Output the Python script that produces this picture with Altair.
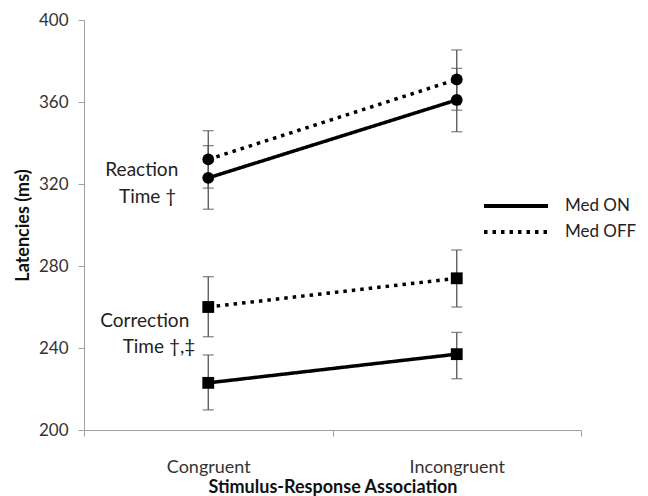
import altair as alt
import pandas as pd

conditions = ["Congruent", "Incongruent"]
measures = ["RT", "RT", "RT", "RT", "CT", "CT", "CT", "CT"]
groups = ["Med ON", "Med ON", "Med OFF", "Med OFF", "Med ON", "Med ON", "Med OFF", "Med OFF"]
conds = ["Congruent", "Incongruent"] * 4
means = [323, 361, 332, 371, 223, 237, 260, 274]
lows = [307.7, 345.5, 318, 356, 209.8, 225, 245.5, 260]
highs = [338.7, 376.4, 346, 385.4, 236.6, 247.6, 274.8, 287.8]

ann_text = ["Reaction", "Time \u2020", "Correction", "Time \u2020,\u2021"]
ann_y = [326.8, 313.7, 253.3, 240.6]

# horizontal text offsets (style) for each annotation line
ANN_DX = [-30, -32, -19, -13]

df = pd.DataFrame({
    "measure": measures, "group": groups, "condition": conds,
    "mean": means, "lo": lows, "hi": highs,
})
df["series"] = df["measure"] + "-" + df["group"]

FONT = "Lato"

x_scale = alt.Scale(type="band", domain=conditions, paddingInner=0, paddingOuter=0)
x_enc = alt.X(
    "condition:N",
    scale=x_scale,
    axis=alt.Axis(title="Stimulus-Response Association", tickBand="extent",
                  labelAngle=0, tickSize=6, labelPadding=22, titlePadding=2,
                  labelFontSize=18),
)
y_scale = alt.Scale(domain=[200, 400], nice=False, zero=False)
y_axis = alt.Axis(title="Latencies (ms)", values=[200, 240, 280, 320, 360, 400],
                  tickSize=6, labelPadding=10, titlePadding=6, grid=False)

base = alt.Chart(df)

err_rule = base.mark_rule(color="#555555", strokeWidth=1.3).encode(
    x=x_enc,
    y=alt.Y("lo:Q", scale=y_scale, axis=y_axis),
    y2="hi:Q",
)
err_lo = base.mark_tick(color="#555555", thickness=1.3, size=11).encode(
    x=x_enc, y=alt.Y("lo:Q", scale=y_scale))
err_hi = base.mark_tick(color="#555555", thickness=1.3, size=11).encode(
    x=x_enc, y=alt.Y("hi:Q", scale=y_scale))

lines = base.mark_line(color="black", strokeWidth=3.5).encode(
    x=x_enc,
    y=alt.Y("mean:Q", scale=y_scale),
    detail="series:N",
    strokeDash=alt.StrokeDash(
        "group:N",
        scale=alt.Scale(domain=["Med ON", "Med OFF"], range=[[1, 0], [3.5, 5]]),
        legend=alt.Legend(
            title=None, orient="none", legendX=398, legendY=176,
            symbolType="stroke", symbolSize=4096, symbolStrokeWidth=4,
            symbolStrokeColor="black", labelFontSize=17, labelFont=FONT,
            labelColor="#222222", labelOffset=15, rowPadding=6,
            clipHeight=20, labelBaseline="middle", padding=0,
        ),
    ),
)

points = base.mark_point(filled=True, color="black", opacity=1, size=140).encode(
    x=x_enc,
    y=alt.Y("mean:Q", scale=y_scale),
    shape=alt.Shape("measure:N", scale=alt.Scale(domain=["RT", "CT"], range=["circle", "square"]),
                    legend=None),
)

text_layers = []
for t, yv, dx in zip(ann_text, ann_y, ANN_DX):
    d = pd.DataFrame({"text": [t], "y": [yv], "condition": ["Congruent"]})
    text_layers.append(
        alt.Chart(d).mark_text(align="right", baseline="middle", fontSize=19,
                               font=FONT, color="#222222", dx=dx).encode(
            x=alt.X("condition:N", scale=x_scale),
            y=alt.Y("y:Q", scale=y_scale),
            text="text:N",
        )
    )

chart = alt.layer(err_rule, err_lo, err_hi, lines, points, *text_layers).properties(
    width=497, height=410,
    autosize=alt.AutoSizeParams(type="none"),
    padding={"left": 76, "top": 12, "right": 59, "bottom": 66},
).configure_view(stroke=None).configure_axis(
    domainColor="#a0a0a0", tickColor="#a0a0a0", labelFont=FONT, titleFont=FONT,
    labelFontSize=17, labelColor="#333333", titleFontSize=18, titleFontWeight="bold",
    titleColor="#111111",
)

chart.save("out.html", embed_options={"renderer": "svg", "actions": False})
